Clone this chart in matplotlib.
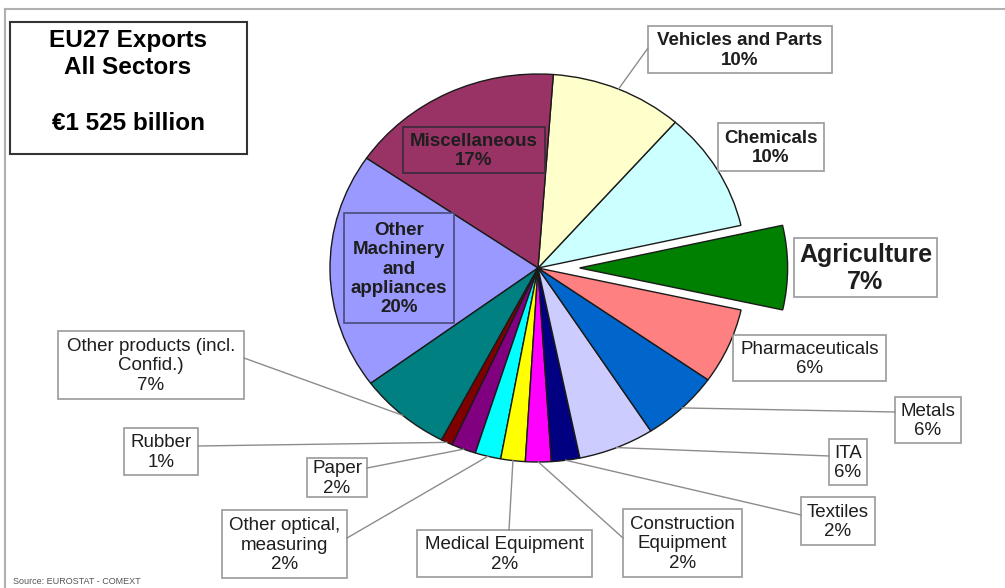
import numpy as np
import matplotlib
matplotlib.use('Agg')
import matplotlib.pyplot as plt
from matplotlib.patches import Rectangle

plt.rcParams['font.family'] = ['Liberation Sans', 'DejaVu Sans']

# Data (share of EU27 exports, %), counter-clockwise from Agriculture
sectors = ['Agriculture', 'Chemicals', 'Vehicles and Parts', 'Miscellaneous',
           'Other\nMachinery\nand\nappliances', 'Other products (incl.\nConfid.)',
           'Rubber', 'Paper', 'Other optical,\nmeasuring', 'Medical Equipment',
           'Construction\nEquipment', 'Textiles', 'ITA', 'Metals', 'Pharmaceuticals']
shares = [7.0, 10.0, 10.3, 16.6, 19.7, 7.2, 0.9, 1.9, 2.0, 1.9, 2.0, 2.2, 5.9, 6.1, 6.3]
pct_text = ['7%', '10%', '10%', '17%', '20%', '7%', '1%', '2%', '2%', '2%',
            '2%', '2%', '6%', '6%', '6%']
colors = ['#008000', '#CCFFFF', '#FFFFCC', '#993366', '#9999FF', '#008080', '#800000',
          '#800080', '#00FFFF', '#FFFF00', '#FF00FF', '#000080', '#CCCCFF', '#0066CC',
          '#FF8080']

W, H = 1005, 588
fig = plt.figure(figsize=(W / 100, H / 100), dpi=100)
fig.patch.set_facecolor('white')

# pie geometry in pixels
cx, cy, rx, ry = 538, 268, 208, 194
pax = fig.add_axes([(cx - rx) / W, (H - cy - ry) / H, 2 * rx / W, 2 * ry / H])
explode = [0.2] + [0] * (len(shares) - 1)
wedges, _ = pax.pie(shares, colors=colors, startangle=-12.5, counterclock=True,
                    explode=explode,
                    wedgeprops=dict(edgecolor='#1a1a1a', linewidth=1.0))
pax.set_aspect('auto')
pax.set_xlim(-1, 1)
pax.set_ylim(-1, 1)
for w in wedges:
    w.set_clip_on(False)

# overlay in pixel coordinates (y down)
ax = fig.add_axes([0, 0, 1, 1], zorder=2)
ax.set_xlim(0, W)
ax.set_ylim(H, 0)
ax.axis('off')

# frame lines
ax.plot([5, W], [9, 9], color='#b0b0b0', lw=1.5)
ax.plot([5, 5], [9, H], color='#b0b0b0', lw=1.5)

# title box
ax.add_patch(Rectangle((10, 22), 237, 132, facecolor='white', edgecolor='#333333', lw=1.5))
ax.text(128, 41, 'EU27 Exports', ha='center', va='center', fontsize=17.5, fontweight='bold')
ax.text(128, 68, 'All Sectors', ha='center', va='center', fontsize=17.5, fontweight='bold')
ax.text(128, 123, '€1 525 billion', ha='center', va='center', fontsize=17.5, fontweight='bold')

# label boxes (x0, y0, x1, y1) and leader line anchors
boxes = [(794, 238, 937, 297), (718, 123, 824, 171), (648, 26, 832, 73),
         (403, 127, 545, 173), (344, 213, 454, 323), (58, 331, 244, 399),
         (124, 428, 198, 475), (307, 458, 367, 497), (222, 510, 347, 578),
         (417, 530, 592, 577), (623, 509, 742, 577), (801, 497, 875, 545),
         (829, 439, 867, 485), (895, 397, 961, 443), (733, 335, 886, 381)]
anchors = [None, None, (648, 48), None, None, (244, 358), (198, 446), (367, 468),
           (347, 538), (509, 530), (623, 538), (801, 515), (829, 456), (895, 412), None]

for i, w in enumerate(wedges):
    x0, y0, x1, y1 = boxes[i]
    face, edge, weight, size = 'white', '#9a9a9a', 'normal', 13.5
    if i == 3:
        face, edge = colors[3], '#3a2a3a'
    if i == 4:
        face, edge = colors[4], '#4a4a7a'
    if i in (1, 2, 3, 4):
        weight = 'bold'
    if i == 0:
        weight, size = 'bold', 18
    if anchors[i] is not None:
        mid = np.deg2rad((w.theta1 + w.theta2) / 2)
        sx = cx + rx * np.cos(mid)
        sy = cy - ry * np.sin(mid)
        ax.plot([sx, anchors[i][0]], [sy, anchors[i][1]], color='#8c8c8c', lw=1.0)
    ax.add_patch(Rectangle((x0, y0), x1 - x0, y1 - y0, facecolor=face,
                           edgecolor=edge, lw=1.2))
    ax.text((x0 + x1) / 2, (y0 + y1) / 2 + 1, sectors[i] + '\n' + pct_text[i],
            ha='center', va='center', fontsize=size, fontweight=weight,
            color='#1e1e1e', linespacing=1.17)

ax.text(13, 581, 'Source: EUROSTAT - COMEXT', fontsize=6.5, color='#555555', va='center')

fig.savefig('out.png', dpi=100, facecolor='white')
